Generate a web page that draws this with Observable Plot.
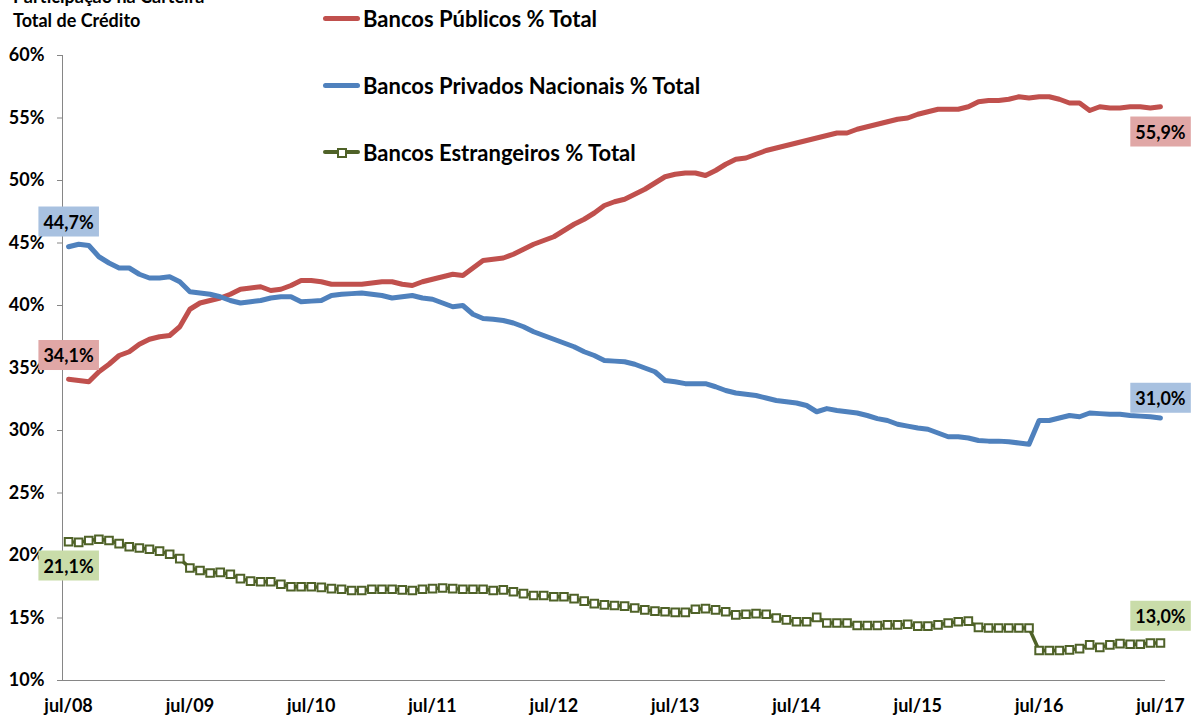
<!DOCTYPE html>
<html><head><meta charset="utf-8">
<script src="https://cdn.jsdelivr.net/npm/d3@7"></script>
<script src="https://cdn.jsdelivr.net/npm/@observablehq/plot@0.6"></script>
<style>
body{margin:0;background:#fff;font-family:Lato,"Liberation Sans",sans-serif;color:#000;}
#wrap{position:relative;width:1192px;height:718px;overflow:hidden;}
#wrap svg{position:absolute;left:0;top:0;}
#title{position:absolute;left:13px;top:-16px;font-weight:bold;font-size:18px;line-height:24px;z-index:2;}
.leg{position:absolute;left:323px;height:26px;font-weight:bold;font-size:22px;display:flex;align-items:center;white-space:nowrap;z-index:2;}
.leg .sw{width:37px;height:5px;border-radius:2.5px;margin-right:3px;position:relative;}
.leg .mk{position:absolute;left:14px;top:-2.5px;width:6px;height:6px;background:#fff;border:2px solid #4F6228;}
</style></head><body>
<div id="wrap">
<div id="title">Participação na Carteira<br>Total de Crédito</div>
</div>
<script>
// ---- data ----
const tickMonths = [0, 12, 24, 36, 48, 60, 72, 84, 96, 108];
const tickLabels = ["jul/08","jul/09","jul/10","jul/11","jul/12","jul/13","jul/14","jul/15","jul/16","jul/17"];
const yTicks = [10, 15, 20, 25, 30, 35, 40, 45, 50, 55, 60];

const seriesNames = ["Bancos Públicos % Total", "Bancos Privados Nacionais % Total", "Bancos Estrangeiros % Total"];
const seriesColors = ["#C0504D", "#4F81BD", "#4F6228"];
const labelFills = ["#E0A7A6", "#A8C1E0", "#C9DCA9"];

const publicos = [34.1,34.0,33.9,34.7,35.3,36.0,36.3,36.9,37.3,37.5,
37.6,38.3,39.7,40.2,40.4,40.6,40.9,41.3,41.4,41.5,
41.2,41.3,41.6,42.0,42.0,41.9,41.7,41.7,41.7,41.7,
41.8,41.9,41.9,41.7,41.6,41.9,42.1,42.3,42.5,42.4,
43.0,43.6,43.7,43.8,44.1,44.5,44.9,45.2,45.5,46.0,
46.5,46.9,47.4,48.0,48.3,48.5,48.9,49.3,49.8,50.3,
50.5,50.6,50.6,50.4,50.8,51.3,51.7,51.8,52.1,52.4,
52.6,52.8,53.0,53.2,53.4,53.6,53.8,53.8,54.1,54.3,
54.5,54.7,54.9,55.0,55.3,55.5,55.7,55.7,55.7,55.9,
56.3,56.4,56.4,56.5,56.7,56.6,56.7,56.7,56.5,56.2,
56.2,55.6,55.9,55.8,55.8,55.9,55.9,55.8,55.9];

const privados = [44.7,44.9,44.8,43.9,43.4,43.0,43.0,42.5,42.2,42.2,
42.3,41.9,41.1,41.0,40.9,40.7,40.4,40.2,40.3,40.4,
40.6,40.7,40.7,40.3,40.35,40.4,40.8,40.9,40.95,41.0,
40.9,40.8,40.6,40.7,40.8,40.6,40.5,40.2,39.9,40.0,
39.3,38.96,38.9,38.8,38.6,38.3,37.9,37.6,37.3,37.0,
36.7,36.3,36.0,35.6,35.55,35.5,35.3,35.0,34.7,34.0,
33.9,33.75,33.75,33.75,33.5,33.2,33.0,32.9,32.8,32.6,
32.4,32.3,32.2,32.0,31.5,31.75,31.6,31.5,31.4,31.2,
30.95,30.8,30.5,30.35,30.2,30.1,29.8,29.5,29.5,29.4,
29.2,29.15,29.15,29.1,29.0,28.9,30.8,30.8,31.0,31.2,
31.1,31.4,31.35,31.3,31.3,31.2,31.15,31.1,31.0];

const estrangeiros = [21.1,21.05,21.2,21.3,21.2,20.95,20.7,20.6,20.5,20.35,
20.1,19.75,19.0,18.8,18.6,18.65,18.5,18.15,17.95,17.9,
17.9,17.7,17.5,17.5,17.5,17.45,17.35,17.3,17.2,17.2,
17.3,17.3,17.3,17.25,17.2,17.3,17.35,17.4,17.35,17.3,
17.3,17.3,17.2,17.25,17.1,16.95,16.8,16.8,16.7,16.7,
16.55,16.35,16.15,16.05,16.0,15.95,15.8,15.65,15.55,15.5,
15.45,15.45,15.7,15.75,15.65,15.5,15.25,15.3,15.35,15.3,
15.0,14.85,14.7,14.7,15.05,14.6,14.6,14.6,14.4,14.4,
14.4,14.45,14.45,14.5,14.35,14.35,14.45,14.6,14.7,14.75,
14.25,14.2,14.2,14.2,14.2,14.2,12.4,12.4,12.4,12.45,
12.55,12.85,12.65,12.85,12.95,12.9,12.9,13.0,13.0];

const allSeries = [publicos, privados, estrangeiros];
const rows = allSeries.map(arr => arr.map((v, i) => ({m: i, v})));
const fmt = v => v.toFixed(1).replace(".", ",") + "%";

// ---- legend (HTML, above the plot area) ----
const wrap = document.getElementById("wrap");
const legendTops = [5, 72, 139];
seriesNames.forEach((name, k) => {
  const d = document.createElement("div");
  d.className = "leg";
  d.style.top = legendTops[k] + "px";
  const sw = document.createElement("span");
  sw.className = "sw";
  sw.style.background = seriesColors[k];
  if (k === 2) { sw.style.height = "4px"; const mk = document.createElement("span"); mk.className = "mk"; sw.appendChild(mk); }
  d.appendChild(sw);
  d.appendChild(document.createTextNode(name));
  wrap.appendChild(d);
});

// ---- label config (first / last value of each series) ----
const labelDefs = [
  {s: 0, i: 0, dy: -23}, {s: 0, i: 108, dy: 26},
  {s: 1, i: 0, dy: -24}, {s: 1, i: 108, dy: -19},
  {s: 2, i: 0, dy: 25},  {s: 2, i: 108, dy: -26}
];

const xDomain = [-0.6, 108.5];

const chart = Plot.plot({
  width: 1192,
  height: 718,
  marginTop: 55,
  marginBottom: 38,
  marginLeft: 62,
  marginRight: 27,
  style: {fontFamily: "Lato, 'Liberation Sans', sans-serif", fontSize: "18px", fontWeight: "bold", color: "#000", background: "transparent"},
  x: {domain: xDomain, ticks: tickMonths, tickFormat: d => tickLabels[tickMonths.indexOf(d)], tickSize: 0, tickPadding: 19, label: null},
  y: {domain: [10, 60], ticks: yTicks, tickFormat: d => d + "%", tickSize: 5, tickPadding: 13, label: null},
  marks: [
    Plot.ruleX([xDomain[0]], {stroke: "#868686", strokeWidth: 1}),
    Plot.ruleY([10], {stroke: "#868686", strokeWidth: 1}),
    Plot.line(rows[0], {x: "m", y: "v", stroke: seriesColors[0], strokeWidth: 5, strokeLinejoin: "round", strokeLinecap: "round"}),
    Plot.line(rows[1], {x: "m", y: "v", stroke: seriesColors[1], strokeWidth: 5, strokeLinejoin: "round", strokeLinecap: "round"}),
    Plot.line(rows[2], {x: "m", y: "v", stroke: seriesColors[2], strokeWidth: 3.5, strokeLinejoin: "round"}),
    Plot.dot(rows[2], {x: "m", y: "v", symbol: "square", r: 4.3, fill: "#fff", stroke: seriesColors[2], strokeWidth: 2}),
    ...labelDefs.map(L => Plot.text([{m: L.i, v: allSeries[L.s][L.i], s: L.s}], {
      x: "m", y: "v", text: d => fmt(d.v), dy: L.dy, fill: "#000",
      fontSize: 18, fontWeight: "bold", ariaDescription: "vlabel-" + L.s
    }))
  ]
});
wrap.insertBefore(chart, wrap.firstChild);

// gray y tick marks
chart.querySelectorAll('g[aria-label="y-axis tick"]').forEach(g => {
  g.setAttribute("stroke", "#868686");
  g.querySelectorAll("path,line").forEach(p => p.setAttribute("stroke", "#868686"));
});

// coloured boxes behind the value labels
chart.querySelectorAll('g[aria-description^="vlabel-"]').forEach(g => {
  const s = +g.getAttribute("aria-description").split("-")[1];
  g.querySelectorAll("text").forEach(t => {
    const b = t.getBBox();
    const r = document.createElementNS("http://www.w3.org/2000/svg", "rect");
    const padX = 5, h = 30;
    r.setAttribute("x", b.x - padX);
    r.setAttribute("y", b.y + b.height / 2 - h / 2);
    r.setAttribute("width", b.width + 2 * padX);
    r.setAttribute("height", h);
    r.setAttribute("fill", labelFills[s]);
    r.setAttribute("stroke", "none");
    if (t.getAttribute("transform")) r.setAttribute("transform", t.getAttribute("transform"));
    t.parentNode.insertBefore(r, t);
  });
});
</script>
</body></html>
